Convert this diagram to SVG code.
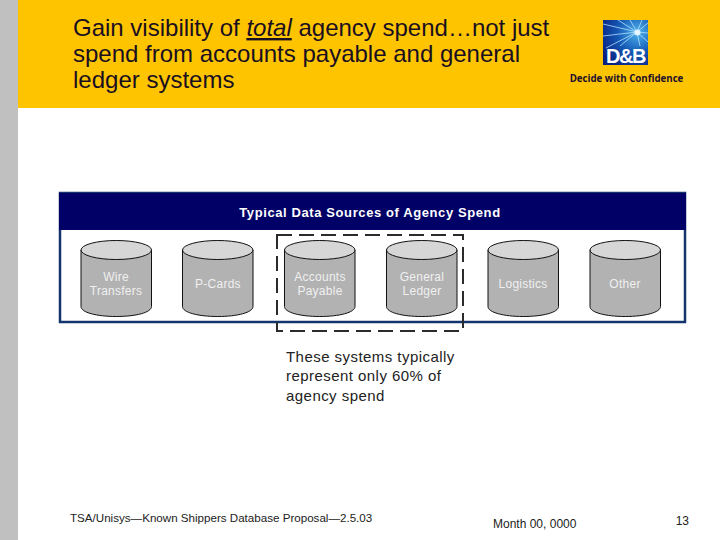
<svg xmlns="http://www.w3.org/2000/svg" width="720" height="540" viewBox="0 0 720 540">
<style>
text{font-family:"Liberation Sans",Arial,sans-serif}
.t{font-size:24px;fill:#1a0f20}
.c{font-size:12px;fill:#f0f0f0;text-anchor:middle;letter-spacing:.25px}
.b{font-size:15px;fill:#222;letter-spacing:.45px}
.f{font-size:11.600px;fill:#222}
.body{fill:#b2b2b2;stroke:#111;stroke-width:1}
.top{fill:#d6d6d6;stroke:#111;stroke-width:1}
.ray{stroke:#bfe6ff;stroke-width:1;opacity:.75}
</style>
<defs>
<radialGradient id="g" cx="0.77" cy="0.28" r="0.9"><stop offset="0" stop-color="#4fb4ee"/><stop offset="0.5" stop-color="#1458b4"/><stop offset="1" stop-color="#0a1f80"/></radialGradient>
<g id="cyl">
<path class="body" d="M0 10V66.500C0 72.500 15.700 76.500 35.250 76.500S70.500 72.500 70.500 66.500V10Z"/>
<ellipse class="top" cx="35.250" cy="10" rx="35.250" ry="9.500"/>
</g>
</defs>
<rect width="720" height="540" fill="#fff"/>
<rect width="18" height="540" fill="#c0c0c0"/>
<rect x="18" width="702" height="108" fill="#ffc400"/>
<g id="title">
<text class="t" x="73" y="36">Gain visibility of <tspan font-style="italic" text-decoration="underline">total</tspan> agency spend…not just</text>
<text class="t" x="73" y="62">spend from accounts payable and general</text>
<text class="t" x="73" y="88">ledger systems</text>
</g>
<g id="logo">
<rect x="603" y="20" width="45" height="45" fill="url(#g)"/>
<g class="rays">
<line class="ray" x1="637" y1="32" x2="603" y2="24"/><line class="ray" x1="637" y1="32" x2="603" y2="36"/><line class="ray" x1="637" y1="32" x2="606" y2="48"/>
<line class="ray" x1="637" y1="32" x2="618" y2="20"/><line class="ray" x1="637" y1="32" x2="630" y2="20"/><line class="ray" x1="637" y1="32" x2="642" y2="20"/>
<line class="ray" x1="637" y1="32" x2="648" y2="23"/><line class="ray" x1="637" y1="32" x2="648" y2="33"/><line class="ray" x1="637" y1="32" x2="648" y2="42"/><line class="ray" x1="637" y1="32" x2="620" y2="46"/><line class="ray" x1="637" y1="32" x2="640" y2="46"/>
</g>
<circle cx="637.500" cy="32.500" r="3" fill="#e4f6ff"/>
<text x="625.500" y="62.500" font-size="20" font-weight="bold" fill="#fff" text-anchor="middle" letter-spacing="-1.500">D&amp;B</text>
<text x="626.500" y="82" font-size="9.700" font-weight="bold" fill="#1c0f2e" text-anchor="middle" style="font-family:'Open Sans','Liberation Sans',sans-serif">Decide with Confidence</text>
</g>
<g id="panel">
<rect x="60" y="193" width="625" height="129" fill="#fff" stroke="#14346e" stroke-width="2.500"/>
<rect x="59" y="193" width="627" height="37" fill="#000066"/>
<text x="370" y="217" font-size="13" font-weight="bold" fill="#fff" text-anchor="middle" letter-spacing=".6">Typical Data Sources of Agency Spend</text>
</g>
<g id="node-wire"><use href="#cyl" x="81" y="240"/><text class="c" x="116" y="281">Wire</text><text class="c" x="116" y="295">Transfers</text></g>
<g id="node-pcards"><use href="#cyl" x="182.500" y="240"/><text class="c" x="218" y="288">P-Cards</text></g>
<g id="node-ap"><use href="#cyl" x="284.500" y="240"/><text class="c" x="320" y="281">Accounts</text><text class="c" x="320" y="295">Payable</text></g>
<g id="node-gl"><use href="#cyl" x="386.500" y="240"/><text class="c" x="422" y="281">General</text><text class="c" x="422" y="295">Ledger</text></g>
<g id="node-logistics"><use href="#cyl" x="488" y="240"/><text class="c" x="523" y="288">Logistics</text></g>
<g id="node-other"><use href="#cyl" x="590" y="240"/><text class="c" x="625" y="288">Other</text></g>
<g id="connectors"></g>
<rect id="highlight" x="277" y="235" width="186" height="96" fill="none" stroke="#2b2b2b" stroke-width="2" stroke-dasharray="15 7"/>
<g id="note">
<text class="b" x="286" y="362">These systems typically</text>
<text class="b" x="286" y="381">represent only 60% of</text>
<text class="b" x="286" y="401">agency spend</text>
</g>
<g id="footer">
<text class="f" x="70" y="522">TSA/Unisys—Known Shippers Database Proposal—2.5.03</text>
<text class="f" x="493" y="528" style="font-size:12px">Month 00, 0000</text>
<text class="f" x="689" y="525" text-anchor="end" style="font-size:12px">13</text>
</g>
</svg>
